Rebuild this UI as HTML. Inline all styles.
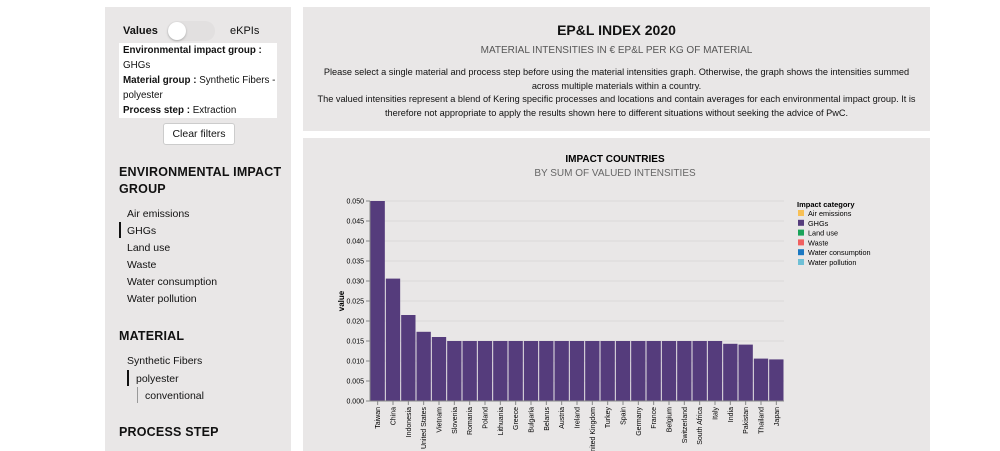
<!DOCTYPE html>
<html><head><meta charset="utf-8">
<style>
body{margin:0;width:1000px;height:451px;overflow:hidden;background:#fff;font-family:"Liberation Sans",Arial,sans-serif;color:#111;position:relative}
.panel{position:absolute;background:#e9e7e7}
.lbl{position:absolute;font-size:11px}
.h{position:absolute;font-size:12.5px;font-weight:bold;letter-spacing:.2px}
.item{position:absolute;font-size:10.5px;left:127px}
</style></head><body>
<div class="panel" style="left:105px;top:7px;width:186px;height:444px"></div>
<div class="lbl" style="left:123px;top:25px;font-weight:bold;font-size:11px">Values</div>
<div style="position:absolute;left:167px;top:21px;width:48px;height:20px;border-radius:10px;background:#e2e0e0"><div style="width:18px;height:18px;border-radius:50%;background:#fff;margin:1px;box-shadow:0 1px 2px #aaa"></div></div>
<div class="lbl" style="left:230px;top:25px">eKPIs</div>
<div style="position:absolute;left:119px;top:43px;width:158px;height:75px;background:#fff;font-size:9.8px;line-height:15px;padding:0 4px;box-sizing:border-box;white-space:nowrap;overflow:hidden">
<b>Environmental impact group :</b><br>GHGs<br><b>Material group :</b> Synthetic Fibers -<br>polyester<br><b>Process step :</b> Extraction</div>
<div style="position:absolute;left:163px;top:123px;width:70px;height:20px;background:#fff;border:1px solid #ccc;border-radius:3px;font-size:10.5px;text-align:center;line-height:20px">Clear filters</div>
<div class="h" style="left:119px;top:164px;line-height:17px">ENVIRONMENTAL IMPACT<br>GROUP</div>
<div class="item" style="top:208px">Air emissions</div>
<div style="position:absolute;left:119px;top:222px;width:2px;height:16px;background:#111"></div>
<div class="item" style="top:225px">GHGs</div>
<div class="item" style="top:242px">Land use</div>
<div class="item" style="top:259px">Waste</div>
<div class="item" style="top:276px">Water consumption</div>
<div class="item" style="top:293px">Water pollution</div>
<div class="h" style="left:119px;top:329px">MATERIAL</div>
<div class="item" style="top:355px">Synthetic Fibers</div>
<div style="position:absolute;left:127px;top:370px;width:2px;height:16px;background:#111"></div>
<div class="item" style="left:136px;top:373px">polyester</div>
<div style="position:absolute;left:137px;top:387px;width:1px;height:16px;background:#999"></div>
<div class="item" style="left:145px;top:390px">conventional</div>
<div class="h" style="left:119px;top:425px">PROCESS STEP</div>

<div class="panel" style="left:303px;top:7px;width:627px;height:124px"></div>
<div style="position:absolute;left:303px;width:627px;top:22px;text-align:center;font-size:14px;font-weight:bold">EP&amp;L INDEX 2020</div>
<div style="position:absolute;left:303px;width:627px;top:45px;text-align:center;font-size:10px;color:#555">MATERIAL INTENSITIES IN € EP&amp;L PER KG OF MATERIAL</div>
<div style="position:absolute;left:315px;width:603px;top:66px;text-align:center;font-size:9.2px;line-height:13.5px">Please select a single material and process step before using the material intensities graph. Otherwise, the graph shows the intensities summed<br>across multiple materials within a country.<br>The valued intensities represent a blend of Kering specific processes and locations and contain averages for each environmental impact group. It is<br>therefore not appropriate to apply the results shown here to different situations without seeking the advice of PwC.</div>

<div class="panel" style="left:303px;top:138px;width:627px;height:313px"></div>
<svg id="chart" width="1000" height="451" style="position:absolute;left:0;top:0;font-family:'Liberation Sans',Arial,sans-serif"></svg>
<script>
const countries=["Taiwan","China","Indonesia","United States","Vietnam","Slovenia","Romania","Poland","Lithuania","Greece","Bulgaria","Belarus","Austria","Ireland","United Kingdom","Turkey","Spain","Germany","France","Belgium","Switzerland","South Africa","Italy","India","Pakistan","Thailand","Japan"];
const values=[0.050,0.0306,0.0215,0.0173,0.016,0.015,0.015,0.015,0.015,0.015,0.015,0.015,0.015,0.015,0.015,0.015,0.015,0.015,0.015,0.015,0.015,0.015,0.015,0.0143,0.0141,0.0106,0.0104];
const yTicks=[0,0.005,0.01,0.015,0.02,0.025,0.03,0.035,0.04,0.045,0.05];
const legendLabels=["Air emissions","GHGs","Land use","Waste","Water consumption","Water pollution"];
const legendColors=["#f8c055","#553c7c","#1aa35a","#f06060","#1a78c2","#6fc0d6"];
const NS="http://www.w3.org/2000/svg";
const svg=document.getElementById('chart');
const X0=370,X1=784,Y0=401,Y1=201,YMAX=0.05;
const bw=(X1-X0)/countries.length;
const y=v=>Y0-(v/YMAX)*(Y0-Y1);
const x=i=>X0+i*bw;
function mk(t,a,txt){const e=document.createElementNS(NS,t);for(const k in a)e.setAttribute(k,a[k]);if(txt!=null)e.textContent=txt;svg.appendChild(e);return e;}
let t=mk('text',{x:615,y:162,'text-anchor':'middle','font-size':10,'font-weight':'bold'},'IMPACT COUNTRIES');


t=mk('text',{x:615,y:176,'text-anchor':'middle','font-size':10,fill:'#666'},'BY SUM OF VALUED INTENSITIES');


yTicks.forEach(v=>{
  const g=mk('line',{x1:X0,x2:X1,y1:y(v),y2:y(v),stroke:'#dcdada','stroke-width':1});
  
  
  const tk=mk('line',{x1:X0-4,x2:X0,y1:y(v),y2:y(v),stroke:'#888'});
  
  
  const l=mk('text',{x:X0-6,y:y(v)+2.5,'text-anchor':'end','font-size':7},v.toFixed(3));
  
  
});
const ax=mk('line',{x1:X0,x2:X0,y1:Y1,y2:Y0,stroke:'#888'});


const yt=mk('text',{x:0,y:0,'font-size':8,'font-weight':'bold','text-anchor':'middle',transform:'translate(344,301) rotate(-90)'},'value');


countries.forEach((c,i)=>{
  const r=mk('rect',{x:x(i)+0.5,y:y(values[i]),width:bw-1,height:Y0-y(values[i]),fill:'#553c7c'});
  
  
  const cx=x(i)+bw/2;
  const tk=mk('line',{x1:cx,x2:cx,y1:Y0,y2:Y0+4,stroke:'#888'});
  
  
  const l=mk('text',{x:0,y:0,'font-size':7,'text-anchor':'end',transform:`translate(${cx+2.5},${Y0+6}) rotate(-90)`},c);
  
  
});
const xa=mk('line',{x1:X0,x2:X1,y1:Y0,y2:Y0,stroke:'#888'});


const lt=mk('text',{x:797,y:207,'font-size':7.5,'font-weight':'bold'},'Impact category');


legendLabels.forEach((n,i)=>{
  const yy=216+i*9.8;
  const s=mk('rect',{x:798,y:yy-6,width:6,height:6,fill:legendColors[i]});
  
  
  const l=mk('text',{x:808,y:yy,'font-size':7.3},n);
  
  
});
</script>
</body></html>
